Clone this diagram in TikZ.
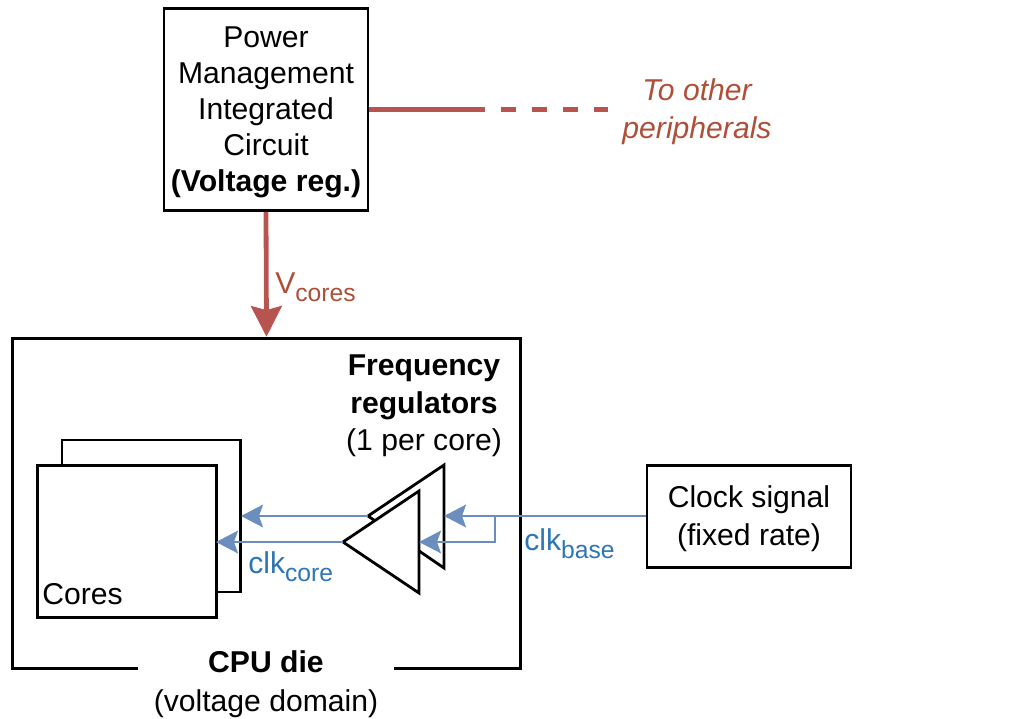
\documentclass[tikz,border=0pt]{standalone}
\usepackage{fontspec}
\setmainfont{Liberation Sans}
\usepackage{xcolor}
\usetikzlibrary{positioning,calc,arrows.meta}
\definecolor{powerline}{HTML}{B85450}
\definecolor{powertext}{HTML}{AE4F38}
\definecolor{clockline}{HTML}{6C8EBF}
\definecolor{clocktext}{HTML}{2E75B6}
\newcommand{\lowtext}[1]{\raisebox{-6.7pt}{\fontsize{18.5}{20}\selectfont #1}}
\begin{document}
\begin{tikzpicture}[x=0.75pt,y=-0.75pt,
    every node/.style={font=\fontsize{22.6}{28.3}\selectfont,align=center,inner sep=0pt},
    block/.style={draw=black,line width=2.1pt,fill=white},
    powerwire/.style={draw=powerline,line width=3.6pt},
    clockwire/.style={draw=clockline,line width=1.6pt},
    clockarrow/.style={clockwire,-{Stealth[length=16.5pt,width=17pt,inset=3pt]}}]
\useasboundingbox (0,0) rectangle (1012,718);
% power side
\node[block,minimum width=153pt,minimum height=152pt] (pmic) at (266,109.5) {};
\node[font=\fontsize{22.6}{27}\selectfont] (pmiclabel) at (266,112.5) {Power\\Management\\Integrated\\Circuit\\\textbf{(Voltage reg.)}};
\node[block,minimum width=381pt,minimum height=248pt] (die) at (266.5,503.5) {};
\node[fill=white,font=\fontsize{22.6}{29}\selectfont,minimum width=192pt,minimum height=54pt] (dielabel) at (266,684) {\textbf{CPU die}\\(voltage domain)};
\node[text=powertext,font=\fontsize{22.6}{28.5}\selectfont\itshape] (others) at (697,112) {To other\\peripherals};
\coordinate (split) at (470,109.5);
\coordinate (dashend) at (608,109.5);
\draw[powerwire] (pmic.east) -- (split);
\draw[powerwire,dash pattern=on 11.2pt off 12pt] (split) -- (dashend);
\draw[powerwire,-{Stealth[length=23pt,width=23pt,inset=3pt]}] (pmic.south) -- (die.north);
\node[text=powertext,anchor=base west] (vcores) at (275,293) {V\lowtext{cores}};
% cores
\node[block,minimum width=134pt,minimum height=114pt] (coreback) at (151.3,516) {};
\node[block,minimum width=134pt,minimum height=114pt] (corefront) at (127,541.5) {};
\node[anchor=base west] (coreslabel) at (42,604) {Cores};
% regulators
\node (freqlabel) at (424,406) {\textbf{Frequency}\\\textbf{regulators}\\(1 per core)};
\coordinate (backtip) at (368,516);
\coordinate (backin) at (444,516);
\coordinate (fronttip) at (343,542);
\coordinate (frontin) at (419,542);
\coordinate (fork) at (495,516);
\coordinate (forkdown) at (495,542);
\coordinate (coreback in) at (241,516);
\coordinate (corefront in) at (216,542);
\draw[block] (444,465) -- (444,568) -- (backtip) -- cycle;
\draw[block] (419,491) -- (419,593) -- (fronttip) -- cycle;
% clock side
\node[block,minimum width=153pt,minimum height=77pt] (clock) at (749,516.5) {};
\node (clocklabel) at (749,518.5) {Clock signal\\(fixed rate)};
\draw[clockarrow] (clock.west |- backin) -- (backin);
\draw[clockarrow] (fork) -- (forkdown) -- (frontin);
\draw[clockarrow] (backtip) -- (coreback in);
\draw[clockarrow] (fronttip) -- (corefront in);
\node[text=clocktext,anchor=base west] (clkcore) at (248,573) {clk\lowtext{core}};
\node[text=clocktext,anchor=base west] (clkbase) at (524,550) {clk\lowtext{base}};
\end{tikzpicture}
\end{document}
